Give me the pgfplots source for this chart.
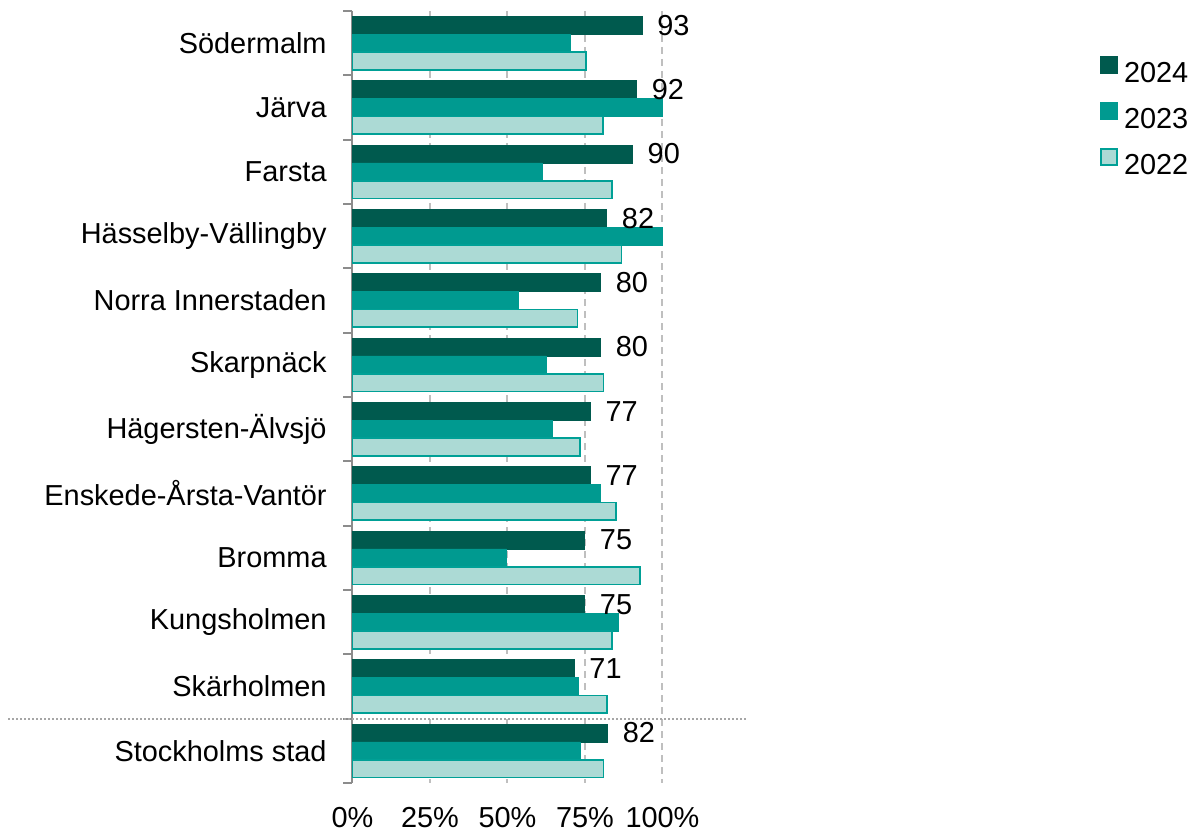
\documentclass[border=0pt]{standalone}
\usepackage{pgfplots}
\pgfplotsset{compat=1.18}
\usepackage{fontspec}
\setmainfont{Liberation Sans}
\definecolor{c24}{HTML}{005A4E}
\definecolor{c23}{HTML}{009A90}
\definecolor{c22}{HTML}{ACDAD5}
\definecolor{c22e}{HTML}{00A096}
\definecolor{gridc}{HTML}{BFBFBF}
\definecolor{axc}{HTML}{8C8C8C}
\newcommand\f{\fontsize{14.45}{17}\selectfont}
\begin{document}
\begin{tikzpicture}[font=\f]
\path[use as bounding box] (-176.25pt,-25.5pt) rectangle (425.75pt,391.5pt);
\begin{axis}[
  at={(0,0)}, anchor=south west,
  scale only axis, width=155pt, height=386pt,
  xmin=0, xmax=100, ymin=-0.5, ymax=11.5,
  y dir=reverse,
  xbar, bar width=0.277,
  axis x line=none,
  axis y line*=left,
  y axis line style={axc, line width=1pt},
  ytick={0,...,11},
  yticklabels={Södermalm,Järva,Farsta,Hässelby-Vällingby,Norra Innerstaden,Skarpnäck,Hägersten-Älvsjö,Enskede-Årsta-Vantör,Bromma,Kungsholmen,Skärholmen,Stockholms stad},
  major tick length=0pt,
  minor ytick={-0.5,0.5,...,11.5},
  minor tick length=4.5pt,
  tick align=outside,
  minor tick style={axc, line width=1pt},
  yticklabel style={inner sep=0pt, xshift=-12.75pt},
  clip=false,
  /pgf/number format/assume math mode=true,
  legend style={draw=none, fill=none, at={(rel axis cs:2.392,0.9475)}, anchor=north west,
    row sep=10pt, column sep=3pt, nodes={inner sep=0pt, anchor=west, text height=10.4pt, text depth=0pt}},
  legend cell align=left,
  legend image code/.code={\draw[#1, line width=0.8pt] (0pt,-0.5pt) rectangle (8pt,7.5pt);},
  nodes near coords style={font=\f},
]
% grid lines
\foreach \v in {25,50,75,100}{
  \edef\tmp{\noexpand\draw[gridc, line width=1pt, dash pattern=on 3.5pt off 2.5pt] (axis cs:\v,-0.5) -- (axis cs:\v,11.5);}
  \tmp
}
\draw[gray!70, line width=1pt, densely dotted] (axis cs:-111,10.5) -- (axis cs:127.6,10.5);
\addplot[fill=c24, draw=c24, line width=0.3pt, bar shift=-0.277,
  point meta=explicit symbolic,
  nodes near coords, nodes near coords align={anchor=west},
  every node near coord/.append style={inner sep=0pt, xshift=7.5pt, text=black}]
  coordinates {(93.4,0)[93] (91.6,1)[92] (90.3,2)[90] (82.0,3)[82] (80.0,4)[80] (80.0,5)[80] (76.7,6)[77] (76.7,7)[77] (74.9,8)[75] (74.9,9)[75] (71.5,10)[71] (82.3,11)[82]};
\addplot[fill=c23, draw=c23, line width=0.3pt, bar shift=0]
  coordinates {(70.2,0) (100,1) (61.2,2) (100,3) (53.5,4) (62.5,5) (64.5,6) (80.0,7) (49.7,8) (85.8,9) (72.8,10) (73.4,11)};
\addplot[fill=c22, draw=c22e, line width=0.9pt, bar shift=0.277]
  coordinates {(75.3,0) (80.9,1) (83.6,2) (86.8,3) (72.6,4) (81.0,5) (73.3,6) (84.9,7) (92.7,8) (83.6,9) (82.2,10) (81.0,11)};
\legend{2024,2023,2022}
% x tick labels
\foreach \v in {0,25,50,75,100}{
  \edef\tmp{\noexpand\node[inner sep=0pt, anchor=center] at (axis cs:\v,11.5) [yshift=-17.5pt] {\v\noexpand\%};}
  \tmp
}
\end{axis}
\end{tikzpicture}
\end{document}
